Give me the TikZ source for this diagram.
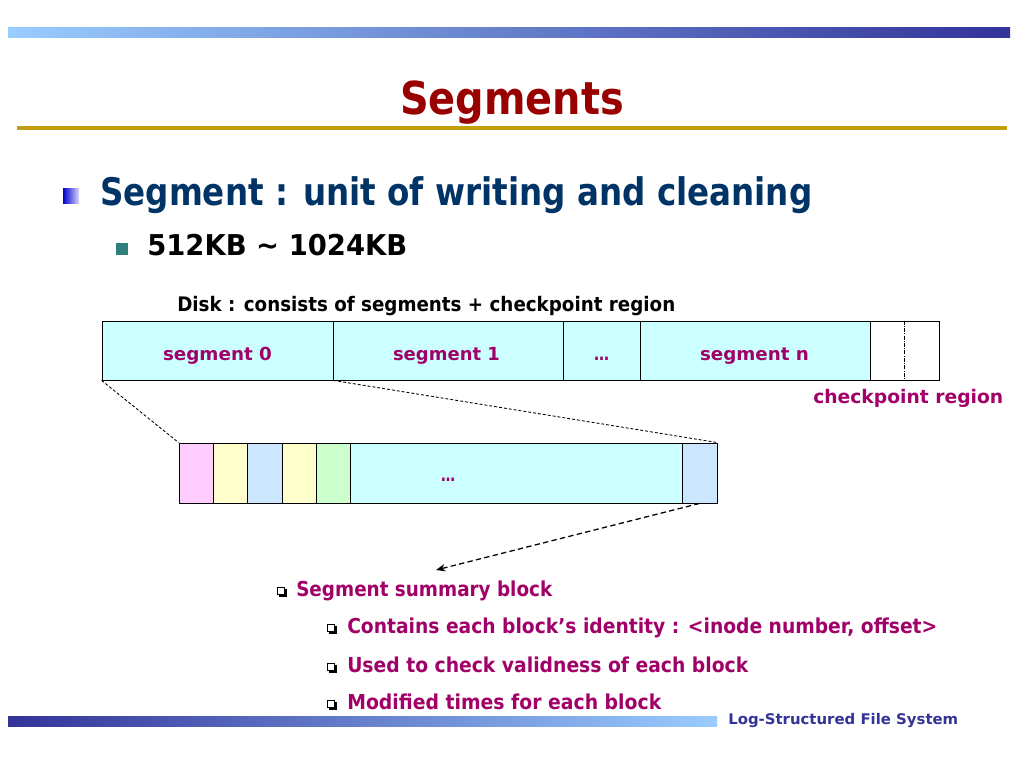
\documentclass[tikz,border=0pt]{standalone}
\usepackage{fontspec}
\setmainfont{DejaVu Sans}
\usepackage{graphicx}
\usetikzlibrary{arrows.meta}
\definecolor{lightblu}{HTML}{99CCFF}
\definecolor{navy}{HTML}{333399}
\definecolor{goldc}{HTML}{C0A010}
\definecolor{titlec}{HTML}{990000}
\definecolor{headc}{HTML}{003366}
\definecolor{magc}{HTML}{A10068}
\definecolor{tealc}{HTML}{2F7F7A}
\definecolor{cyanc}{HTML}{CCFFFF}
\definecolor{pinkc}{HTML}{FFCCFF}
\definecolor{yelc}{HTML}{FFFFCC}
\definecolor{bluc}{HTML}{CCE6FF}
\definecolor{grnc}{HTML}{CCFFCC}
\newcommand\fitw[3]{\resizebox{#1}{\height}{\fontsize{#2}{#2}\selectfont\bfseries #3}}
\tikzset{
  cellbox/.style={draw=black, line width=0.65pt, minimum height=44.25pt, inner sep=0pt, fill=cyanc},
  blkbox/.style={draw=black, line width=0.65pt, minimum height=45pt, inner sep=0pt},
  txt/.style={inner sep=0pt, anchor=base west},
  lbl/.style={inner sep=0pt, anchor=base, text=magc},
  chk/.style={draw=black, fill=white, line width=0.5pt, minimum size=5.6pt, inner sep=0pt},
  chkshadow/.style={line width=1.1pt, black},
  thindash/.style={line width=0.65pt, dash pattern=on 2.2pt off 1.5pt},
  arrdash/.style={line width=0.95pt, dash pattern=on 4pt off 2.5pt, -{Stealth[length=7pt,width=5.5pt]}},
  cpdiv/.style={line width=0.5pt, dash pattern=on 3pt off 1pt on 0.6pt off 1pt}
}
\begin{document}
\begin{tikzpicture}[x=0.75pt,y=-0.75pt]
\useasboundingbox (0,0) rectangle (1024,768);
\fill[white] (0,0) rectangle (1024,768);
% decorative bars
\shade[left color=lightblu, right color=navy] (8,27) rectangle (1010,37);
\fill[goldc] (17,126) rectangle (1007,130);
\shade[left color=navy, right color=lightblu] (8,716) rectangle (717,726);
% title
\node[inner sep=0pt, anchor=base, text=titlec] (title) at (512,114) {\fitw{168pt}{34pt}{Segments}};
% bullets
\shade[left color=blue!80!black, right color=blue!15] (63,188) rectangle (79,203);
\node[txt, text=headc] (head) at (100,205) {\fitw{534pt}{28.5pt}{Segment : unit of writing and cleaning}};
\fill[tealc] (116,243) rectangle (128,255);
\node[txt, text=black] (size) at (147,255) {\fitw{195pt}{21.5pt}{512KB \textasciitilde{} 1024KB}};
\node[txt, text=black] (disklbl) at (177,311) {\fitw{373.5pt}{15pt}{Disk : consists of segments + checkpoint region}};
% disk
\node[cellbox, minimum width=173.25pt] (seg0) at (217.5,350.5) {};
\node[cellbox, minimum width=172.5pt] (seg1) at (448,350.5) {};
\node[cellbox, minimum width=57.75pt] (segd) at (601.5,350.5) {};
\node[cellbox, minimum width=172.5pt] (segn) at (755,350.5) {};
\node[cellbox, fill=white, minimum width=51.75pt] (cp) at (904.5,350.5) {};
\draw[cpdiv] (cp.north) -- (cp.south);
\node[lbl] (t0) at (217.5,360) {\fitw{81.75pt}{13.5pt}{segment 0}};
\node[lbl] (t1) at (446.5,360) {\fitw{80.25pt}{13.5pt}{segment 1}};
\node[lbl] (td) at (601.5,360) {\fitw{11.25pt}{13.5pt}{…}};
\node[lbl] (tn) at (754.5,360) {\fitw{81.75pt}{13.5pt}{segment n}};
\node[txt, text=magc] (cplbl) at (813,403) {\fitw{142.5pt}{14pt}{checkpoint region}};
% segment blocks
\node[blkbox, fill=pinkc, minimum width=25.5pt] (b1) at (196,473) {};
\node[blkbox, fill=yelc, minimum width=25.875pt] (b2) at (230.25,473) {};
\node[blkbox, fill=bluc, minimum width=25.875pt] (b3) at (264.75,473) {};
\node[blkbox, fill=yelc, minimum width=25.5pt] (b4) at (299,473) {};
\node[blkbox, fill=grnc, minimum width=25.5pt] (b5) at (333,473) {};
\node[blkbox, fill=cyanc, minimum width=249pt] (b6) at (516,473) {};
\node[blkbox, fill=bluc, minimum width=26.25pt] (b7) at (699.5,473) {};
\node[lbl] (bdots) at (448,481) {\fitw{10.5pt}{13.5pt}{…}};
% zoom connectors
\draw[thindash] (seg0.south west) -- (b1.north west);
\draw[thindash] (seg0.south east) -- (b7.north east);
\coordinate (tip) at (436,570);
\draw[arrdash] (b7.south) -- (tip);
% summary list
\node[chk] (c1) at (281,591) {};
\node[txt, text=magc] (s1) at (296,596) {\fitw{192pt}{15.4pt}{Segment summary block}};
\node[chk] (c2) at (331,628) {};
\node[txt, text=magc] (s2) at (347,633) {\fitw{442.5pt}{15.4pt}{Contains each block’s identity : <inode number, offset>}};
\node[chk] (c3) at (331,667) {};
\node[txt, text=magc] (s3) at (347,672) {\fitw{300.75pt}{15.4pt}{Used to check validness of each block}};
\node[chk] (c4) at (331,704) {};
\node[txt, text=magc] (s4) at (347,709) {\fitw{235.5pt}{15.4pt}{Modified times for each block}};
\foreach \c in {c1,c2,c3,c4}
  \draw[chkshadow] ([xshift=0.55pt,yshift=-1.3pt]\c.north east) -- ([xshift=0.55pt,yshift=-0.55pt]\c.south east) -- ([xshift=1.3pt,yshift=-0.55pt]\c.south west);
% footer
\node[txt, text=navy] (foot) at (728,724) {\fitw{172.5pt}{11pt}{Log-Structured File System}};
\end{tikzpicture}
\end{document}
